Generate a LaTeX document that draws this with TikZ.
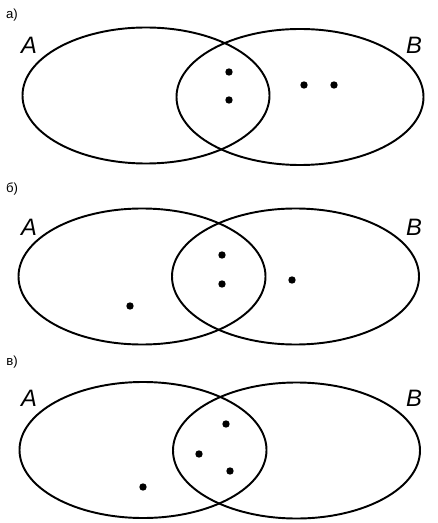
\documentclass[tikz,border=0pt]{standalone}
\usepackage{fontspec}
\setmainfont{Liberation Sans}
\usepackage{tikz}

\begin{document}
\begin{tikzpicture}[x=0.02cm, y=-0.02cm,
  venn/.style={line width=1.1pt},
  dot/.style={circle, fill, inner sep=0pt, minimum size=4.2pt},
  setlab/.style={font=\fontsize{13.5}{15}\selectfont\itshape},
  partlab/.style={font=\fontsize{7.5}{9}\selectfont}]
\useasboundingbox (0,0) rectangle (438,523);
% panel captions
\node[partlab] (pa) at (12,15) {а)};
\node[partlab] (pb) at (12,189) {б)};
\node[partlab] (pc) at (12,362) {в)};
% two overlapping sets in each panel
\foreach \ax/\ay/\bx/\by in {146/95.5/300/97, 142/276.5/295.5/276.5, 143/450/296.5/450.5} {
  \draw[venn] (\ax,\ay) ellipse [x radius=123.5, y radius=68];
  \draw[venn] (\bx,\by) ellipse [x radius=123.5, y radius=68];
}
% set names
\foreach \y/\n in {45/a, 227/b, 398/c} {
  \node[setlab] (A\n) at (29,\y) {A};
  \node[setlab] (B\n) at (414,\y) {B};
}
% elements
\foreach \x/\y [count=\i] in {229/72, 229/100, 304/85, 334/85} { \node[dot] (da\i) at (\x,\y) {}; }
\foreach \x/\y [count=\i] in {222/255, 222/284, 292/280, 130/306} { \node[dot] (db\i) at (\x,\y) {}; }
\foreach \x/\y [count=\i] in {226/424, 199/454, 230/471, 143/487} { \node[dot] (dc\i) at (\x,\y) {}; }
\end{tikzpicture}
\end{document}
